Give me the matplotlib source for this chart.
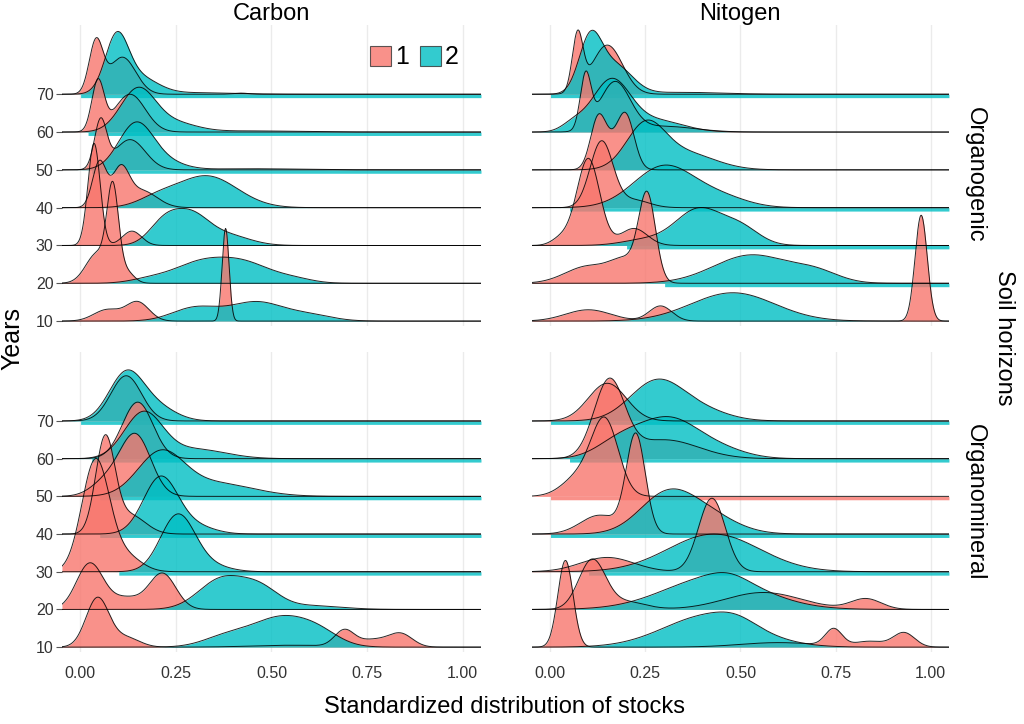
import numpy as np
import matplotlib
matplotlib.use('Agg')
import matplotlib.pyplot as plt
from matplotlib.patches import Patch

years = [10, 20, 30, 40, 50, 60, 70]
groups = ['1', '2']
elements = ['Carbon', 'Nitogen']
horizons = ['Organogenic', 'Organomineral']
x_ticks = [0.0, 0.25, 0.5, 0.75, 1.0]
x_tick_labels = ['0.00', '0.25', '0.50', '0.75', '1.00']

# density peaks for each year 10..70: (centre, spread, height in ridge units)
carbon_organogenic_1 = [
    [(0.07, 0.035, 0.3), (0.15, 0.03, 0.5), (0.38, 0.009, 2.45)],
    [(0.085, 0.015, 2.3), (0.045, 0.03, 0.8), (0.12, 0.02, 0.3)],
    [(0.036, 0.016, 2.7), (0.135, 0.025, 0.38)],
    [(0.05, 0.018, 1.2), (0.105, 0.022, 0.95), (0.16, 0.04, 0.45)],
    [(0.053, 0.016, 1.25), (0.13, 0.04, 0.8)],
    [(0.046, 0.016, 1.3), (0.13, 0.04, 1.0)],
    [(0.041, 0.018, 1.35), (0.11, 0.035, 0.98), (0.42, 0.02, 0.03)],
]
carbon_organogenic_2 = [
    [(0.3, 0.06, 0.35), (0.46, 0.07, 0.5), (0.6, 0.06, 0.15)],
    [(0.31, 0.07, 0.5), (0.43, 0.07, 0.5), (0.18, 0.05, 0.1), (0.56, 0.05, 0.1)],
    [(0.22, 0.04, 0.6), (0.29, 0.045, 0.72), (0.38, 0.06, 0.28)],
    [(0.33, 0.08, 0.84), (0.2, 0.05, 0.2)],
    [(0.145, 0.045, 1.2), (0.22, 0.05, 0.2), (0.45, 0.12, 0.03)],
    [(0.15, 0.045, 1.1), (0.24, 0.06, 0.25), (0.45, 0.12, 0.03)],
    [(0.095, 0.03, 1.4), (0.15, 0.05, 0.45), (0.3, 0.1, 0.04)],
]
nitogen_organogenic_1 = [
    [(0.1, 0.06, 0.3), (0.29, 0.03, 0.4), (0.975, 0.016, 2.8)],
    [(0.255, 0.022, 2.2), (0.2, 0.04, 0.55), (0.1, 0.06, 0.45)],
    [(0.1, 0.03, 2.3), (0.22, 0.035, 0.45), (0.03, 0.025, 0.2)],
    [(0.135, 0.03, 1.75), (0.22, 0.04, 0.2)],
    [(0.125, 0.02, 1.15), (0.2, 0.022, 1.25), (0.16, 0.03, 0.6)],
    [(0.093, 0.014, 1.4), (0.17, 0.04, 1.3), (0.3, 0.08, 0.15)],
    [(0.072, 0.014, 1.5), (0.15, 0.04, 1.3)],
]
nitogen_organogenic_2 = [
    [(0.48, 0.11, 0.75)],
    [(0.53, 0.1, 0.75), (0.7, 0.06, 0.25)],
    [(0.39, 0.06, 0.95), (0.5, 0.05, 0.45), (0.25, 0.06, 0.15)],
    [(0.3, 0.08, 1.1), (0.45, 0.07, 0.25)],
    [(0.25, 0.05, 1.1), (0.35, 0.08, 0.45)],
    [(0.16, 0.05, 1.35), (0.28, 0.07, 0.3), (0.06, 0.03, 0.2)],
    [(0.105, 0.03, 1.4), (0.17, 0.045, 0.75), (0.35, 0.1, 0.05)],
]
carbon_organomineral_1 = [
    [(0.045, 0.03, 1.3), (0.12, 0.035, 0.25), (0.69, 0.025, 0.4), (0.77, 0.05, 0.2),
     (0.84, 0.03, 0.3), (0.55, 0.1, 0.05)],
    [(0.025, 0.035, 1.22), (0.215, 0.035, 0.95), (0.12, 0.04, 0.3)],
    [(0.04, 0.036, 2.95), (0.12, 0.04, 0.4)],
    [(0.065, 0.025, 2.5), (0.13, 0.04, 0.5)],
    [(0.145, 0.04, 1.6), (0.07, 0.04, 0.4)],
    [(0.15, 0.04, 1.5)],
    [(0.12, 0.04, 1.2)],
]
carbon_organomineral_2 = [
    [(0.53, 0.08, 0.8), (0.38, 0.06, 0.25), (0.63, 0.05, 0.2)],
    [(0.37, 0.06, 0.8), (0.47, 0.05, 0.5), (0.6, 0.08, 0.1)],
    [(0.255, 0.045, 1.5), (0.34, 0.05, 0.15)],
    [(0.21, 0.045, 1.5), (0.3, 0.05, 0.2)],
    [(0.21, 0.06, 1.1), (0.35, 0.1, 0.35)],
    [(0.165, 0.05, 1.2), (0.3, 0.08, 0.25)],
    [(0.12, 0.045, 1.25), (0.2, 0.05, 0.35)],
]
nitogen_organomineral_1 = [
    [(0.04, 0.02, 2.3), (0.745, 0.022, 0.45), (0.93, 0.028, 0.38), (0.84, 0.04, 0.15),
     (0.6, 0.1, 0.12)],
    [(0.11, 0.035, 1.3), (0.2, 0.05, 0.2), (0.56, 0.1, 0.45), (0.83, 0.04, 0.28)],
    [(0.425, 0.035, 1.95), (0.15, 0.07, 0.38)],
    [(0.225, 0.025, 2.6), (0.13, 0.05, 0.5)],
    [(0.145, 0.035, 1.9), (0.08, 0.045, 0.55)],
    [(0.155, 0.04, 2.0), (0.3, 0.09, 0.5)],
    [(0.15, 0.05, 1.0)],
]
nitogen_organomineral_2 = [
    [(0.42, 0.12, 0.85), (0.49, 0.05, 0.15)],
    [(0.43, 0.13, 0.85), (0.47, 0.05, 0.15)],
    [(0.43, 0.12, 1.0)],
    [(0.3, 0.07, 0.9), (0.4, 0.08, 0.55)],
    [],
    [(0.31, 0.08, 1.05), (0.18, 0.06, 0.4), (0.45, 0.07, 0.2)],
    [(0.28, 0.07, 1.05), (0.4, 0.07, 0.25)],
]

# ridges with a thin tail running to the right edge: (year, group, tail start)
tails_carbon_organogenic = [(70, '2', 0.0), (60, '2', 0.02), (50, '2', 0.03)]
tails_nitogen_organogenic = [(70, '2', 0.0), (40, '2', 0.05), (30, '2', 0.2), (20, '2', 0.3)]
tails_carbon_organomineral = [(70, '2', 0.0), (60, '2', 0.03), (50, '2', 0.05),
                              (40, '2', 0.05), (30, '2', 0.1)]
tails_nitogen_organomineral = [(70, '2', 0.0), (60, '2', 0.05), (50, '1', 0.0),
                               (40, '2', 0.0), (30, '2', 0.1)]

panels = {
    ('Carbon', 'Organogenic'): (carbon_organogenic_1, carbon_organogenic_2, tails_carbon_organogenic),
    ('Nitogen', 'Organogenic'): (nitogen_organogenic_1, nitogen_organogenic_2, tails_nitogen_organogenic),
    ('Carbon', 'Organomineral'): (carbon_organomineral_1, carbon_organomineral_2, tails_carbon_organomineral),
    ('Nitogen', 'Organomineral'): (nitogen_organomineral_1, nitogen_organomineral_2, tails_nitogen_organomineral),
}

colors = {'1': '#F8766D', '2': '#00BFC4'}
plt.rcParams['font.family'] = ['Liberation Sans', 'DejaVu Sans']


def density(x, peaks):
    d = np.zeros_like(x)
    for c, s, h in peaks:
        d += h * np.exp(-0.5 * ((x - c) / s) ** 2)
    return d


fig = plt.figure(figsize=(10.24, 7.24), dpi=100)
col_left = {'Carbon': 0.0605, 'Nitogen': 0.5195}
col_width = {'Carbon': 0.4092, 'Nitogen': 0.4072}
row_bottom = {'Organogenic': 0.5497, 'Organomineral': 0.0994}
row_height = {'Organogenic': 0.4157, 'Organomineral': 0.4144}

x = np.linspace(-0.048, 1.048, 900)
axes = {}
for (el, hz), (g1, g2, tails) in panels.items():
    ax = fig.add_axes([col_left[el], row_bottom[hz], col_width[el], row_height[hz]])
    axes[(el, hz)] = ax
    for xt in x_ticks:
        ax.axvline(xt, color='#ebebeb', lw=1.0, zorder=0)
    tail_map = {(yr, g): t for yr, g, t in tails}
    # top rows first so lower ridges overlap the ones above
    for i in range(len(years) - 1, -1, -1):
        yr = years[i]
        for g, series in zip(groups, (g1, g2)):
            peaks = series[i]
            if not peaks:
                continue
            d = density(x, peaks)
            ax.fill_between(x, i, i + d, color=colors[g], alpha=0.8, lw=0)
            if (yr, g) in tail_map:
                ax.fill_between(x, i - 0.09, i, where=x >= tail_map[(yr, g)],
                                color=colors[g], alpha=0.8, lw=0)
            ax.plot(x, i + d, color='black', lw=0.7, alpha=0.85)
    ax.set_xlim(-0.048, 1.048)
    ax.set_ylim(-0.13, 7.83)
    for sp in ax.spines.values():
        sp.set_visible(False)
    ax.set_xticks(x_ticks)
    ax.set_yticks(range(len(years)))
    if hz == 'Organomineral':
        ax.set_xticklabels(x_tick_labels, fontsize=11.5, color='#333333')
        ax.tick_params(axis='x', length=0, pad=10)
    else:
        ax.tick_params(axis='x', length=0, labelbottom=False)
    if el == 'Carbon':
        ax.set_yticklabels([str(y) for y in years], fontsize=11.5, color='#333333')
        ax.tick_params(axis='y', length=4, color='#555555', pad=2)
    else:
        ax.tick_params(axis='y', length=0, labelleft=False)

handles = [Patch(facecolor=colors[g], edgecolor='#333333', alpha=0.8, lw=0.8) for g in groups]
axes[('Carbon', 'Organogenic')].legend(
    handles, groups, ncol=2, loc='center left', bbox_to_anchor=(0.361, 0.921),
    bbox_transform=fig.transFigure, frameon=False, fontsize=18,
    handlelength=0.85, handleheight=0.85, handletextpad=0.15, columnspacing=0.45,
    borderpad=0, borderaxespad=0)

fig.text(271 / 1024, 1 - 14 / 724, 'Carbon', ha='center', va='center', fontsize=17)
fig.text(740 / 1024, 1 - 14 / 724, 'Nitogen', ha='center', va='center', fontsize=17)
fig.text(975 / 1024, 1 - 175 / 724, 'Organogenic', ha='center', va='center', rotation=-90, fontsize=17)
fig.text(975 / 1024, 1 - 502 / 724, 'Organomineral', ha='center', va='center', rotation=-90, fontsize=17)
fig.text(1004 / 1024, 1 - 338 / 724, 'Soil horizons', ha='center', va='center', rotation=-90, fontsize=17)
fig.text(12 / 1024, 1 - 338 / 724, 'Years', ha='center', va='center', rotation=90, fontsize=18)
fig.text(505 / 1024, 1 - 707 / 724, 'Standardized distribution of stocks', ha='center', va='center',
         fontsize=17)

fig.savefig('out.png', dpi=100)
